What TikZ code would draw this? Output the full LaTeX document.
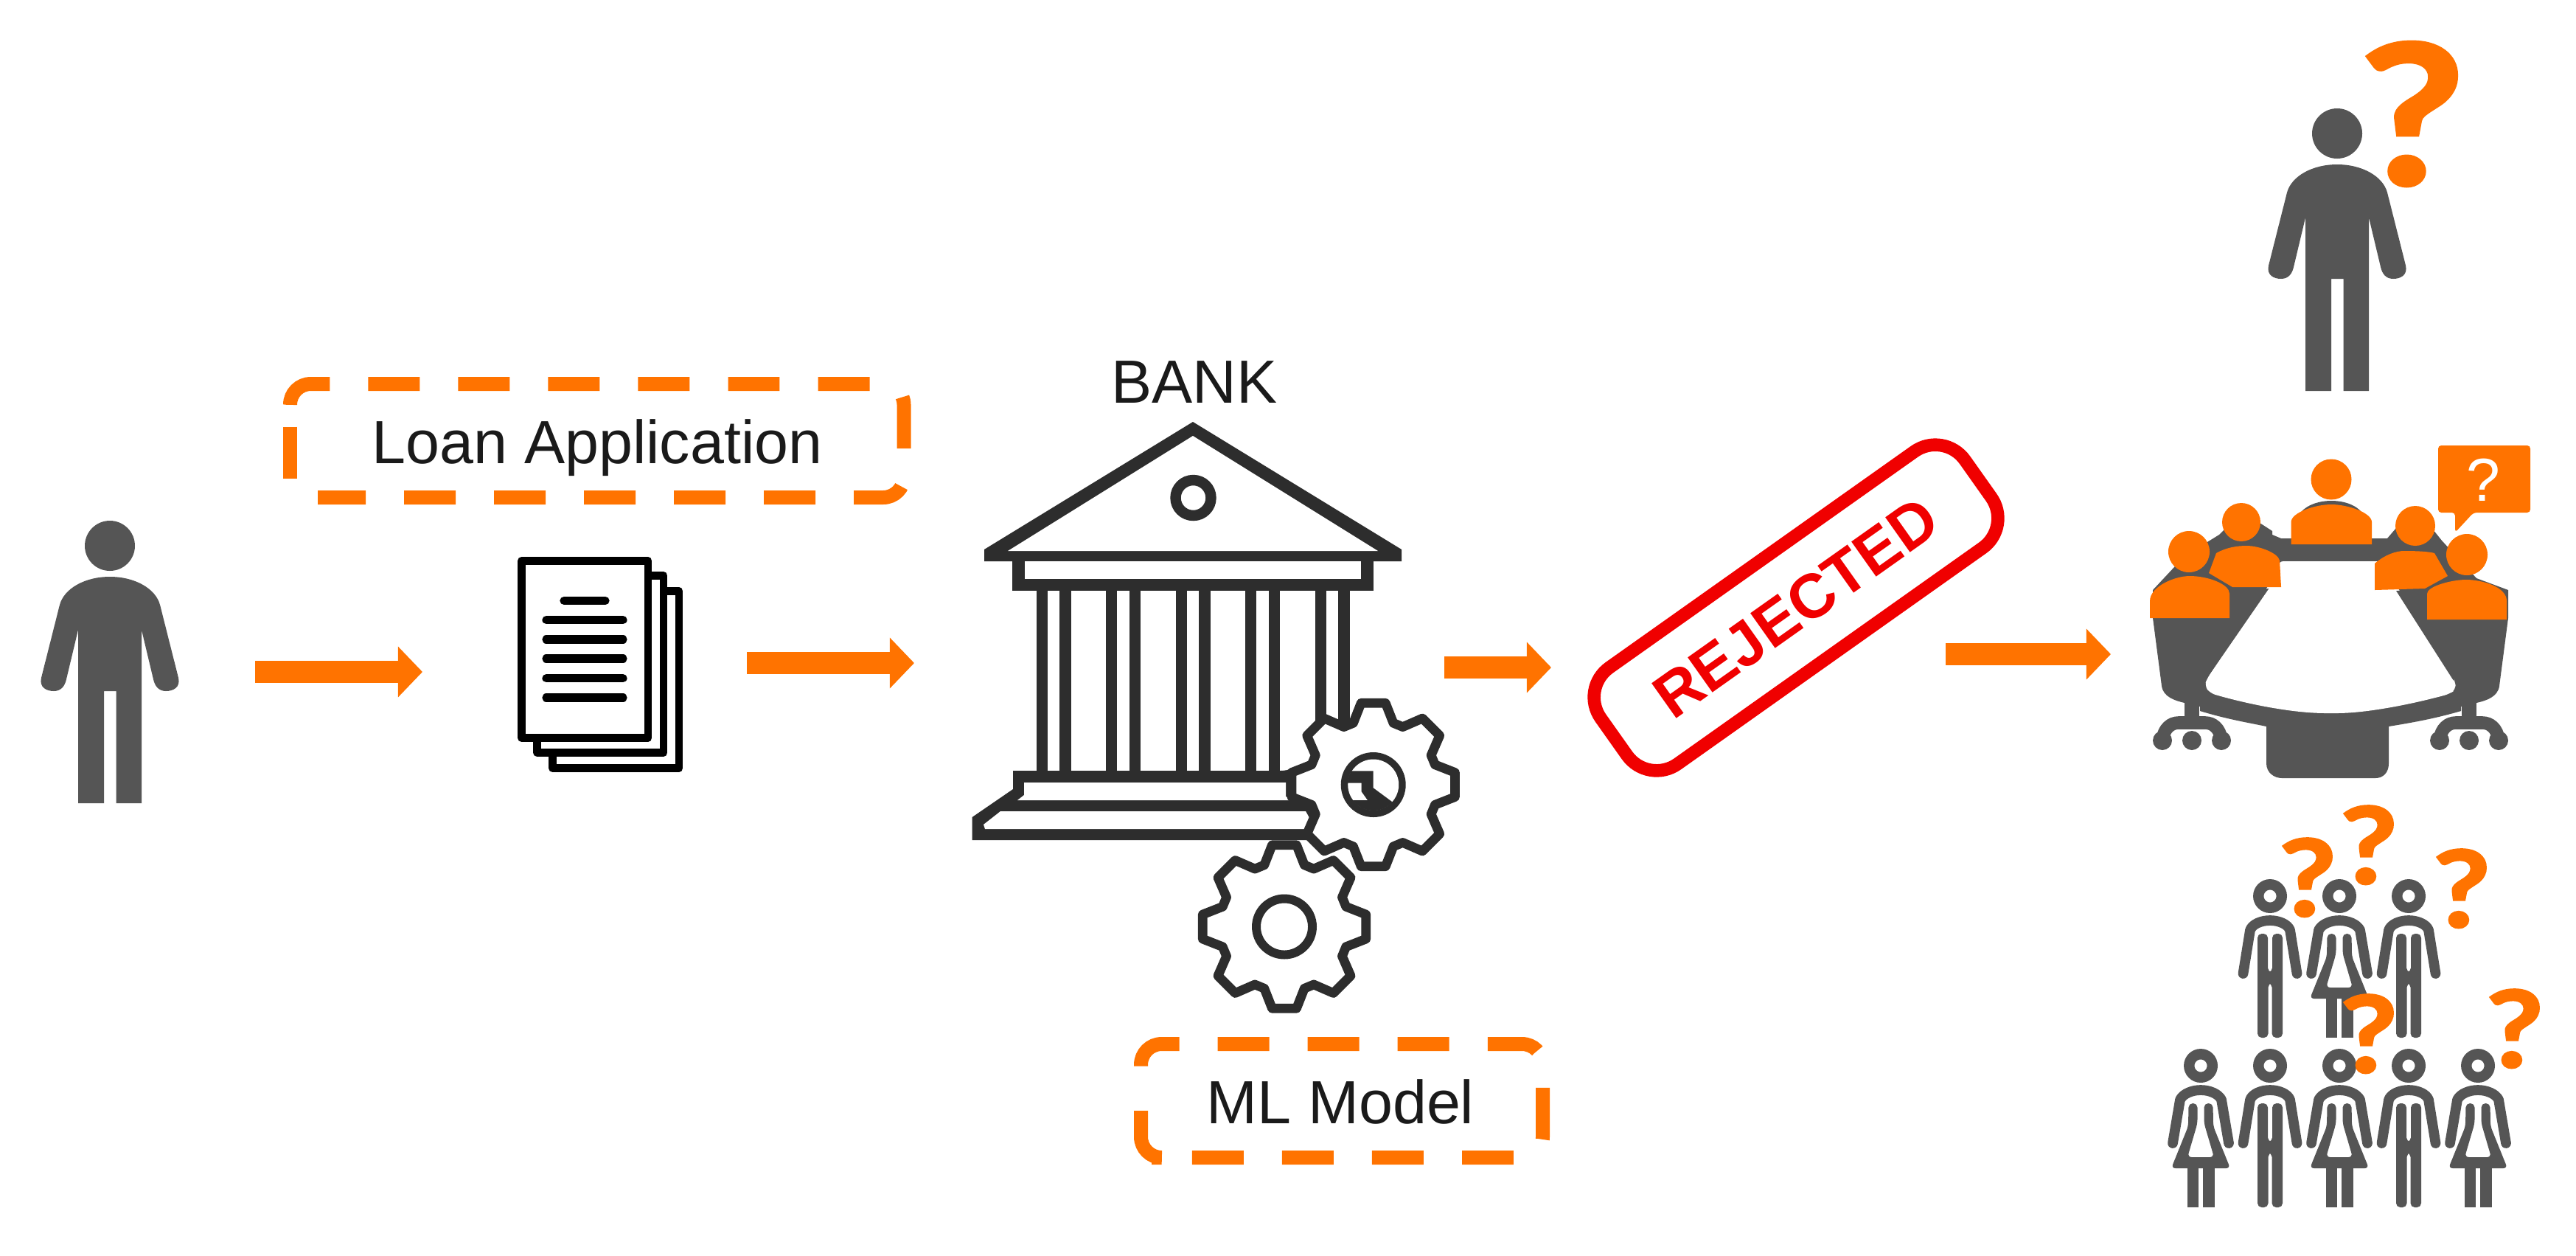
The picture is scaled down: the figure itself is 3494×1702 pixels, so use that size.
\documentclass[tikz,border=0pt]{standalone}
\usepackage{fontspec}
\setmainfont{Liberation Sans}
\newfontfamily\qfont{Lato}[FakeStretch=1.18,BoldFeatures={FakeBold=2}]
\usepackage{xcolor}
\usetikzlibrary{arrows.meta}
\definecolor{flowor}{RGB}{255, 115, 0}
\definecolor{figgray}{RGB}{85, 85, 85}
\definecolor{bankdark}{RGB}{45, 45, 45}
\definecolor{stampred}{RGB}{240, 0, 0}
\definecolor{inkdark}{RGB}{26, 26, 26}
\tikzset{
  flowarrow/.style={draw=flowor,line width=8.8pt,-{Triangle[length=9.4pt,width=19pt]}},
  dashbox/.style={draw=flowor,line width=5.4pt,rounded corners=8pt,dash pattern=on 19.9pt off 14.8pt},
  labeltext/.style={text=inkdark,anchor=base,inner sep=0pt,font=\fontsize{23.5}{28}\selectfont},
  qmark/.style={text=flowor,anchor=base,inner sep=0pt,font=\qfont\fontsize{41}{41}\selectfont\bfseries},
  docline/.style={draw=black,line width=3.1pt,fill=white,line join=round},
  docrow/.style={draw=black,line width=3.2pt,line cap=round},
  gearline/.style={draw=bankdark,line width=3.6pt,fill=white,line join=round},
  personicon/.pic={
    \fill[figgray] (0,0) circle (34);
    \fill[figgray] (0,42) .. controls (-34,42) and (-62,58) .. (-68,80) -- (-93,179)
      .. controls (-96,192) and (-86,197) .. (-76,197) .. controls (-66,197) and (-61,190) .. (-59,181)
      -- (-43,114) -- (-43,349) -- (-8,349) -- (-8,197) -- (8.5,197) -- (8.5,349) -- (43,349) -- (43,114)
      -- (59,181) .. controls (61,190) and (66,197) .. (76,197) .. controls (86,197) and (96,192) .. (93,179)
      -- (68,80) .. controls (62,58) and (34,42) .. (0,42) -- cycle;
  },
  manicon/.pic={
    \draw[figgray,line width=4.1pt] (0,0) circle (15.75);
    \draw[figgray,line width=3.9pt,line cap=round,line join=round] (-36.5,105) -- (-27,46)
      .. controls (-24,38) and (-12,33) .. (0,33) .. controls (12,33) and (24,38) .. (27,46) -- (36.5,105);
    \fill[figgray,rounded corners=1.6pt] (-17,192) -- (-17,51) -- (-3,51) -- (-3,103) -- (3,103) -- (3,51)
      -- (17,51) -- (17,192) -- (2.5,192) -- (2.5,118) -- (-2.5,118) -- (-2.5,192) -- cycle;
  },
  womanicon/.pic={
    \draw[figgray,line width=4.1pt] (0,0) circle (15.75);
    \draw[figgray,line width=3.9pt,line cap=round,line join=round] (-38,105) -- (-28,46)
      .. controls (-24,38) and (-12,33) .. (0,33) .. controls (12,33) and (24,38) .. (28,46) -- (38,105);
    \fill[figgray,rounded corners=1.6pt] (-16.5,51) -- (-4.5,51) -- (-4.5,78) -- (-18,124) -- (18,124)
      -- (4.5,78) -- (4.5,51) -- (16.5,51) -- (17,82) -- (40,139) -- (-40,139) -- (-17,82) -- cycle;
    \fill[figgray] (-18,135) rectangle (-3,192);
    \fill[figgray] (3,135) rectangle (19,192);
  },
  gearicon/.pic={
    \draw[gearline] (-8.5:112)
      \foreach \a in {0,45,...,315} {-- (\a-8.5:112) -- (\a+8.5:112) -- (\a+18:88) -- (\a+27:88)} -- cycle;
  },
  chairbase/.pic={
    \fill[figgray] (-10,-50) rectangle (10,-15);
    \draw[figgray,line width=5pt] (-40,8) .. controls (-38,-8) and (-28,-15) .. (-18,-15)
      -- (18,-15) .. controls (28,-15) and (38,-8) .. (40,8);
    \fill[figgray] (-40,9) circle (13) (0,9) circle (13) (40,9) circle (13);
  }
}
\begin{document}
\begin{tikzpicture}[x=0.01cm,y=-0.01cm]
\useasboundingbox (0,0) rectangle (3494,1702);
\fill[white] (0,0) rectangle (3494,1702);

\pic (applicant) at (149,740) {personicon};

\coordinate (fromapplicant) at (346,911);
\coordinate (todoc) at (573,911);
\draw[flowarrow] (fromapplicant) -- (todoc);

\draw[dashbox] (393.5,548.5) -- (393.5,520.5) -- (1226,520.5) -- (1226,674.5) -- (431,674.5);
\draw[draw=flowor,line width=5.4pt] (393.5,578.5) -- (393.5,648.5);
\node[labeltext] (loantext) at (810,628) {Loan Application};

\draw[docline] (749.5,801.5) rectangle (921,1041.5);
\draw[docline] (728.5,780.5) rectangle (900,1020.5);
\draw[docline] (707.5,760.5) rectangle (879,1000.5);
\draw[docrow] (765,814.5) -- (821,814.5);
\foreach \y in {840.6,867,893,919.6,946}
  \draw[docrow] (741,\y) -- (845,\y);

\coordinate (fromdoc) at (1013,899);
\coordinate (tobank) at (1240,899);
\draw[flowarrow] (fromdoc) -- (tobank);

\node[labeltext] (banktext) at (1620,546) {BANK};

\fill[bankdark] (1335,745) -- (1618,572) -- (1901,745) -- (1901,761) -- (1335,761) -- cycle;
\fill[white] (1367,747) -- (1618,591) -- (1869,747) -- cycle;
\draw[bankdark,line width=4.1pt] (1618.5,675) circle (24);
\fill[bankdark] (1373,761) rectangle (1863,800.5);
\fill[white] (1390,761) rectangle (1846,785);
\foreach \x in {1413,1507.5,1602,1696.5,1791} {
  \fill[bankdark] (\x-7.5,800) rectangle (\x+7.5,1046);
  \fill[bankdark] (\x+24,800) rectangle (\x+39.5,1046);
}
\fill[bankdark] (1374,1045) -- (1736,1045) .. controls (1748,1045) and (1758,1041) .. (1768,1035)
  -- (1800,1020) -- (1800,1139) -- (1318.6,1139) -- (1318.6,1108) -- (1374,1070) -- cycle;
\fill[white] (1389,1061) -- (1744,1061) -- (1744,1080) -- (1755,1085) -- (1380,1085) -- (1389,1078) -- cycle;
\fill[white] (1357,1100) -- (1771,1100) -- (1776,1109) -- (1772,1124) -- (1336,1124) -- (1334,1118) -- cycle;

\pic (gearmodel) at (1742,1256.5) {gearicon};
\draw[bankdark,line width=3.4pt] (1742,1256.5) circle (38);
\pic (gearclock) at (1862.7,1064) {gearicon};
\fill[bankdark] (1862.7,1064) circle (44);
\fill[white] (1862.7,1064) circle (34.5);
\begin{scope}[shift={(1862.7,1064)}]
  \clip (0,0) circle (35);
  \fill[bankdark] (-40,-18.7) -- (0,-18.7) -- (0,4.3) -- (32,28) -- (32,45) -- (-40,45) -- (-40,21)
    -- (-7.7,21) -- (-16,9.3) -- (-16,-2.3) -- (-40,-2.3) -- cycle;
\end{scope}

\draw[dashbox] (1547.5,1445.5) -- (1547.5,1415.5) -- (2092.5,1415.5) -- (2092.5,1569.5) -- (1615,1569.5);
\draw[draw=flowor,line width=5.4pt,rounded corners=8pt] (1547.5,1506) -- (1547.5,1569.5) -- (1562,1569.5);
\node[labeltext] (mltext) at (1818,1523) {ML Model};

\coordinate (frombank) at (1959,905);
\coordinate (tostamp) at (2104,905);
\draw[flowarrow] (frombank) -- (tostamp);

\node[draw=stampred,line width=5pt,rounded corners=14pt,rotate=35.3,minimum width=6.05cm,minimum height=1.6cm,
  text=stampred,font=\fontsize{24}{26}\selectfont\bfseries] (stamp) at (2436,824) {REJECTED};

\coordinate (fromstamp) at (2639,887);
\coordinate (toboard) at (2863,887);
\draw[flowarrow] (fromstamp) -- (toboard);

\pic (asker) at (3170,181) {personicon};
\node[qmark,font=\qfont\fontsize{75}{75}\selectfont\bfseries] (qasker) at (3272,250) {?};

\fill[figgray] (3117,700) .. controls (3125,685) and (3145,679) .. (3162,679)
  .. controls (3180,679) and (3199,685) .. (3207,700) -- cycle;
\fill[figgray] (2920,838) -- (2932,930) .. controls (2934,945) and (2950,950) .. (2963,953) -- (2984,958)
  -- (2984,964) .. controls (3020,975) and (3050,980) .. (3074,985) -- (3074,1035)
  .. controls (3074,1048) and (3085,1055) .. (3095,1055) -- (3222,1055)
  .. controls (3232,1055) and (3240,1048) .. (3240,1035) -- (3240,985)
  .. controls (3270,980) and (3300,975) .. (3338,964) -- (3338,958) -- (3359,953)
  .. controls (3372,950) and (3388,945) .. (3390,930) -- (3402,838) -- (3402,800) -- (3359,784) -- (3312,733)
  -- (3300,718) -- (3250,716) -- (3238,730) -- (3094,730) -- (3082,725) -- (3082,720) -- (3065,709)
  -- (3020,715) -- (3010,725) -- (2963,754) -- (2920,800) -- cycle;
\fill[white,rounded corners=2pt] (3090,761) -- (3230,761) -- (3330,923) -- (3331,935) -- (3322,941)
  .. controls (3270,955) and (3210,967) .. (3162,967) .. controls (3110,967) and (3050,955) .. (2998,940)
  -- (2990,930) -- (2994,919) -- (3090,780) -- cycle;
\fill[white] (3074,798) -- (3100,761) -- (3222,761) -- (3250,801) -- cycle;
\fill[white,rounded corners=2pt] (3250,797) -- (3328,923) -- (3331,935) -- (3280,900) -- cycle;
\fill[figgray] (3250,801) -- (3328,923) -- (3345,850) -- (3330,800) -- cycle;
\fill[figgray] (3074,798) -- (2994,919) -- (2975,850) -- (2990,800) -- cycle;
\foreach \cx in {2973,3349}
  \pic at (\cx,995) {chairbase};

\fill[flowor] (3162,650) circle (27.5);
\fill[flowor] (3107.5,738) -- (3107.5,708) .. controls (3107.5,695) and (3140,684) .. (3162,684)
  .. controls (3184,684) and (3217,695) .. (3217,708) -- (3217,738) -- cycle;
\fill[flowor] (3040,708) circle (26);
\fill[flowor] (2996,777) -- (3006,750) .. controls (3020,742) and (3035,740) .. (3047,740)
  .. controls (3065,740) and (3090,750) .. (3092,760) -- (3094,796) -- (3028,796) -- cycle;
\fill[flowor] (2969,748) circle (28);
\fill[flowor] (2916,838) -- (2916,815) .. controls (2916,795) and (2950,781) .. (2970,781)
  .. controls (2995,781) and (3024,792) .. (3024,805) -- (3024,838) -- cycle;
\fill[flowor] (3276,713) circle (27);
\fill[flowor] (3221,800) -- (3221,764) .. controls (3235,752) and (3250,747) .. (3261,747)
  .. controls (3280,747) and (3295,748) .. (3302,750) -- (3320,781) -- (3289,798) -- cycle;
\fill[flowor,rounded corners=1.2pt] (3307,604) -- (3432,604) -- (3432,695) -- (3355,695) -- (3330,722)
  -- (3330,695) -- (3307,695) -- cycle;
\node[anchor=base,inner sep=0pt,text=white,font=\fontsize{23.4}{26}\selectfont] (qbubble) at (3368,679) {?};
\fill[flowor] (3346,752) circle (28);
\fill[flowor] (3292,840) -- (3292,805) .. controls (3292,795) and (3325,786) .. (3345,786)
  .. controls (3365,786) and (3400,795) .. (3400,815) -- (3400,840) -- cycle;

\pic at (3079,1215) {manicon};
\pic at (3173,1215) {womanicon};
\pic at (3267,1215) {manicon};
\pic at (2985,1445) {womanicon};
\pic at (3079,1445) {manicon};
\pic at (3173,1445) {womanicon};
\pic at (3267,1445) {manicon};
\pic at (3361,1445) {womanicon};

\node[qmark] (qa) at (3130,1242) {?};
\node[qmark] (qb) at (3213,1198) {?};
\node[qmark] (qc) at (3339,1257) {?};
\node[qmark] (qd) at (3213,1454) {?};
\node[qmark] (qe) at (3411,1447) {?};
\end{tikzpicture}
\end{document}
